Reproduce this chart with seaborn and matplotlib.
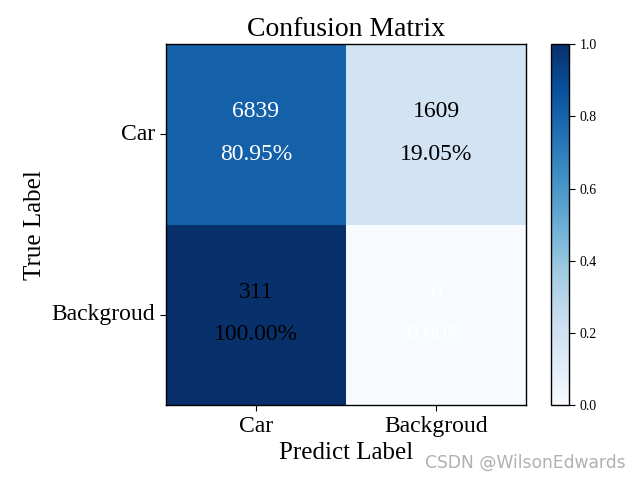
import numpy as np
import pandas as pd
import matplotlib
matplotlib.use("Agg")
import matplotlib.pyplot as plt
import seaborn as sns

classes = ["Car", "Backgroud"]
counts = [[6839, 1609], [311, 0]]
text_colors = [["white", "black"], ["black", "white"]]

cm = np.array(counts, dtype=float)
norm = cm / cm.sum(axis=1, keepdims=True)
df = pd.DataFrame(norm, index=classes, columns=classes)

sns.set_style("white")
plt.rcParams['font.family'] = ['Liberation Serif', 'DejaVu Serif']
plt.rcParams.update({"text.color": "black", "axes.labelcolor": "black",
                     "xtick.color": "black", "ytick.color": "black"})

fig = plt.figure(figsize=(6.4, 4.8), dpi=100)
ax = fig.add_axes([0.259, 0.156, 0.563, 0.752])
cax = fig.add_axes([0.861, 0.156, 0.028, 0.752])

sns.heatmap(df, ax=ax, cmap="Blues", vmin=0, vmax=1, cbar_ax=cax,
            annot=False, square=False, linewidths=0)

for i in range(2):
    for j in range(2):
        ax.text(j + 0.5, i + 0.375, f"{counts[i][j]}", ha="center", va="center",
                color=text_colors[i][j], fontsize=17)
        ax.text(j + 0.5, i + 0.61, f"{norm[i][j]*100:.2f}%", ha="center", va="center",
                color=text_colors[i][j], fontsize=17)

for s in ax.spines.values():
    s.set_visible(True)
    s.set_color("black")
    s.set_linewidth(1)

ax.set_title("Confusion Matrix", fontsize=20, color="black")
ax.set_xlabel("Predict Label", fontsize=18)
ax.set_ylabel("True Label", fontsize=18)
ax.set_xticklabels(classes, fontsize=17, rotation=0)
ax.set_yticklabels(classes, fontsize=17, rotation=0)
ax.tick_params(axis="both", which="both", length=4, width=0.8, colors="black",
               bottom=True, left=True)

cax.set_yticks([0, 0.2, 0.4, 0.6, 0.8, 1.0])
cax.set_yticklabels(["0.0", "0.2", "0.4", "0.6", "0.8", "1.0"], fontsize=10)
cax.tick_params(length=4, width=0.8, colors="black", right=True)
cbar = ax.collections[0].colorbar
cbar.outline.set_visible(True)
cbar.outline.set_edgecolor("black")
cbar.outline.set_linewidth(1)

fig.text(0.977, 0.035, "CSDN @WilsonEdwards", ha="right", va="center",
         fontsize=12.3, color="#b0b0b0", family="DejaVu Sans")

fig.savefig("out.png", dpi=100)
